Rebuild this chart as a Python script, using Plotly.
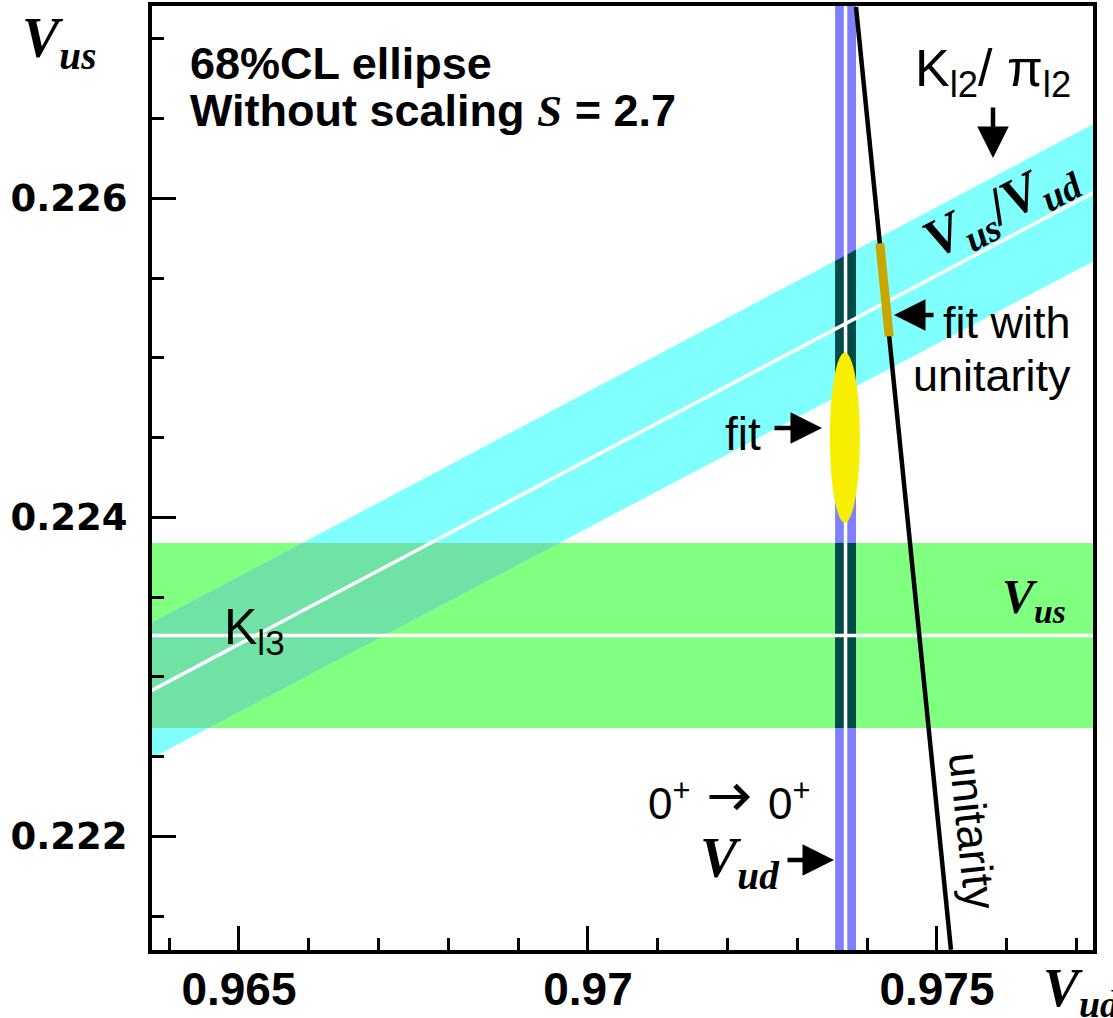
import numpy as np
import plotly.graph_objects as go

# ---------------- data ----------------
vus_kl3 = 0.22326            # Kl3 : |Vus| (green band centre)
vus_kl3_err = 0.00058
ratio_kl2 = 0.2313           # Kl2/pi_l2 : |Vus/Vud| (cyan band centre)
ratio_kl2_err = 0.00044
vud_00 = 0.97369             # 0+ -> 0+ : |Vud| (blue band centre)
vud_00_err = 0.00015
fit_centre = [0.97368, 0.22450]      # 68% CL ellipse centre (Vud, Vus)
fit_semi_axes = [0.000215, 0.000533] # semi-axes (Vud, Vus)
unitarity_vud = [0.97384, 0.97520]   # unitarity line (top / bottom of frame)
unitarity_vus = [0.22720, 0.22129]
fit_unit_vus = [0.225135, 0.225718]  # fit with unitarity (segment on the line)

x_tick_vals = [0.965, 0.970, 0.975]
x_tick_text = ["0.965", "0.97", "0.975"]
y_tick_vals = [0.222, 0.224, 0.226]
y_tick_text = ["0.222", "0.224", "0.226"]

x_range = [0.963754, 0.977235]
y_range = [0.221288, 0.227206]

# ---------------- styling ----------------
GREEN = "#80FF80"
CYAN = "#80FFFF"
OVERLAP = "#70E2A6"
BLUE = "#8080FF"
DARK = "#004A48"
YELLOW = "#F8EE00"
GOLD = "#C8A800"
SANS = "Liberation Sans, Arial, Helvetica, sans-serif"
SERIF = "Liberation Serif, Times New Roman, serif"

W, H = 1113, 1018
ML, MR, MT, MB = 152, 20, 6, 68
PW, PH = W - ML - MR, H - MT - MB

# extents reaching beyond the frame (clipped by the axes)
xe = [x_range[0] - 0.002, x_range[1] + 0.002]
ye = [y_range[0] - 0.002, y_range[1] + 0.002]

fig = go.Figure()


def band(xs, ys, color):
    fig.add_trace(go.Scatter(x=xs, y=ys, mode="lines", fill="toself",
                             fillcolor=color, line=dict(width=0),
                             hoverinfo="skip", showlegend=False))


def line(xs, ys, color, width):
    fig.add_trace(go.Scatter(x=xs, y=ys, mode="lines",
                             line=dict(color=color, width=width),
                             hoverinfo="skip", showlegend=False))


g0, g1 = vus_kl3 - vus_kl3_err, vus_kl3 + vus_kl3_err
rlo, rhi = ratio_kl2 - ratio_kl2_err, ratio_kl2 + ratio_kl2_err
v0, v1 = vud_00 - vud_00_err, vud_00 + vud_00_err

# green Kl3 band
band([xe[0], xe[1], xe[1], xe[0]], [g0, g0, g1, g1], GREEN)
# cyan Kl2/pil2 band
band([xe[0], xe[1], xe[1], xe[0]],
     [rlo * xe[0], rlo * xe[1], rhi * xe[1], rhi * xe[0]], CYAN)
# overlap of the two
band([g0 / rhi, g0 / rlo, g1 / rlo, g1 / rhi], [g0, g0, g1, g1], OVERLAP)
# blue Vud band
band([v0, v1, v1, v0], [ye[0], ye[0], ye[1], ye[1]], BLUE)
# Vud band inside the other bands
band([v0, v1, v1, v0], [rlo * v0, rlo * v1, rhi * v1, rhi * v0], DARK)
band([v0, v1, v1, v0], [g0, g0, g1, g1], DARK)
# white central values
line(xe, [vus_kl3, vus_kl3], "white", 3.5)
line(xe, [ratio_kl2 * xe[0], ratio_kl2 * xe[1]], "white", 3.5)
line([vud_00, vud_00], ye, "white", 3.5)
# unitarity
line(unitarity_vud, unitarity_vus, "black", 4.5)
seg_x = np.interp(fit_unit_vus, unitarity_vus[::-1], unitarity_vud[::-1])
line(list(seg_x), fit_unit_vus, GOLD, 9)

# fit ellipse
fig.add_shape(type="circle", xref="x", yref="y",
              x0=fit_centre[0] - fit_semi_axes[0], x1=fit_centre[0] + fit_semi_axes[0],
              y0=fit_centre[1] - fit_semi_axes[1], y1=fit_centre[1] + fit_semi_axes[1],
              fillcolor=YELLOW, line=dict(width=0), layer="above")


def P(px, py):
    return (px - ML) / PW, (H - MB - py) / PH


annotations = []


def text(t, px, py, size, family=SANS, xanchor="left", angle=0):
    x, y = P(px, py)
    annotations.append(dict(text=t, x=x, y=y, xref="paper", yref="paper",
                            xanchor=xanchor, yanchor="middle", showarrow=False,
                            textangle=angle,
                            font=dict(family=family, size=size, color="black")))


def arrow(tail, tip, head=2, size=1.4, width=4.5):
    x, y = P(*tip)
    annotations.append(dict(text="", x=x, y=y, xref="paper", yref="paper",
                            ax=tail[0] - tip[0], ay=tail[1] - tip[1],
                            showarrow=True, arrowhead=head, arrowsize=size,
                            arrowwidth=width, arrowcolor="black", standoff=0))


text("<b>68%CL ellipse</b>", 188, 63, 45)
text("<b>Without scaling <span style='font-family:Liberation Serif'><i>S</i></span> = 2.7</b>",
     188, 111, 45)
text("K<sub>l2</sub>/ π<sub>l2</sub>", 913, 72, 52)
arrow((993, 106), (993, 158))
text("<b><i>V<sub>us</sub></i>/<i>V<sub>ud</sub></i></b>", 1001, 208, 54,
     family=SERIF, xanchor="center", angle=-27.6)
text("fit with", 1073, 322, 45, xanchor="right")
text("unitarity", 1073, 375, 45, xanchor="right")
arrow((935, 315), (894, 315))
text("fit", 763, 434, 46, xanchor="right")
arrow((773, 428), (822, 428))
text("<b><i>V<sub>us</sub></i></b>", 1034, 600, 48, family=SERIF, xanchor="center")
text("K<sub>l3</sub>", 222, 630, 50)
text("0<sup>+</sup>", 646, 800, 44)
arrow((708, 797), (750, 797), head=4, size=1.1, width=4)
text("0<sup>+</sup>", 766, 800, 44)
text("<b><i>V<sub>ud</sub></i></b>", 698, 862, 56, family=SERIF)
arrow((786, 860), (834, 860))
text("unitarity", 973, 831, 45, xanchor="center", angle=84)
text("<b><i>V<sub>us</sub></i></b>", 20, 42, 56, family=SERIF)
text("<b><i>V<sub>ud</sub></i></b>", 1041, 991, 54, family=SERIF)

axis_common = dict(showline=True, linewidth=4, linecolor="black", mirror=True,
                   showgrid=False, zeroline=False, ticks="inside", automargin=False,
                   ticklen=24, tickwidth=3, tickcolor="black", tickmode="array")

fig.update_xaxes(range=x_range, tickvals=x_tick_vals, ticktext=x_tick_text,
                 tickfont=dict(family=SANS, size=46, color="black", weight="bold"),
                 ticklabelstandoff=-4,
                 minor=dict(ticks="inside", ticklen=12, tickwidth=3, tickcolor="black",
                            tickmode="linear", tick0=0.965, dtick=0.001),
                 **axis_common)
fig.update_yaxes(range=y_range, tickvals=y_tick_vals, ticktext=y_tick_text,
                 tickfont=dict(family="DejaVu Sans, " + SANS, size=37, color="black",
                               weight="bold"),
                 ticklabelstandoff=13,
                 minor=dict(ticks="inside", ticklen=12, tickwidth=3, tickcolor="black",
                            tickmode="linear", tick0=0.222, dtick=0.0005),
                 **axis_common)

fig.update_layout(width=W, height=H, margin=dict(l=ML, r=MR, t=MT, b=MB, autoexpand=False),
                  plot_bgcolor="white", paper_bgcolor="white",
                  showlegend=False, annotations=annotations)

fig.write_html("out.html", config={"displayModeBar": False},
               post_script="document.body.style.margin='0px';"
                           "document.body.style.overflow='hidden';")
